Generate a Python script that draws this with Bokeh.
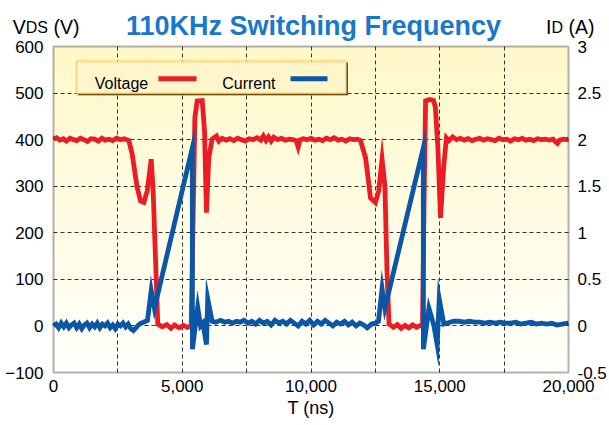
from bokeh.plotting import figure
from bokeh.models import (Range1d, LinearAxis, FixedTicker, NumeralTickFormatter, Grid,
                          Label, BoxAnnotation, Arrow, ColumnDataSource)
from bokeh.embed import file_html
from bokeh.resources import INLINE

# ---------------- data ----------------
volt_t = [0, 120, 250, 380, 500, 640, 780, 900, 1050, 1180, 1320, 1450, 1600, 1740, 1880,
          2000, 2150, 2300, 2450, 2600, 2750, 2925, 3055, 3250, 3380, 3510, 3640, 3795,
          3870, 3960, 4050, 4220, 4400, 4560, 4700, 4880, 5050, 5200, 5345, 5425, 5490,
          5580, 5775, 5865, 5940, 6030, 6160, 6330, 6420, 6550, 6700, 6850, 7000, 7150,
          7300, 7450, 7600, 7750, 7900, 8050, 8150, 8250, 8350, 8450, 8550, 8700, 8850,
          9000, 9150, 9300, 9420, 9500, 9570, 9700, 9850, 10000, 10150, 10300, 10450,
          10600, 10750, 10900, 11050, 11200, 11350, 11500, 11650, 11800, 11920, 12120,
          12310, 12500, 12630, 12760, 12870, 12950, 13030, 13200, 13350, 13500, 13650,
          13800, 13950, 14100, 14250, 14330, 14390, 14450, 14600, 14760, 14830, 14930,
          15030, 15150, 15260, 15360, 15500, 15650, 15800, 15950, 16100, 16250, 16400,
          16550, 16700, 16850, 17000, 17150, 17300, 17450, 17600, 17750, 17900, 18050,
          18200, 18350, 18500, 18650, 18800, 18950, 19100, 19250, 19400, 19500, 19570,
          19650, 19800, 19900, 20000]
volt_v = [401, 404, 399, 402, 397, 403, 400, 398, 403, 400, 396, 402, 401, 397, 403,
          399, 401, 398, 403, 400, 402, 398, 369, 297, 268, 265, 290, 358,
          290, 147, 4, -2, 3, -5, 2, -4, 1, -3, 0, 240, 447,
          483, 484, 419, 243, 361, 401, 408, 397, 403, 399, 402, 398, 403,
          400, 397, 402, 400, 404, 399, 408, 398, 406, 397, 405, 400, 403,
          399, 401, 400, 398, 384, 399, 402, 400, 403, 399, 401, 398,
          403, 400, 404, 399, 401, 397, 402, 400, 401, 398, 361,
          275, 265, 290, 358, 300, 120, 4, -3, 3, -5, 1,
          -4, 2, -3, 1, 0, 260, 483, 486, 484, 470, 380,
          232, 340, 404, 398, 406, 400, 403, 399, 402, 398, 401,
          403, 399, 402, 400, 398, 403, 400, 401, 397, 402, 400,
          403, 399, 401, 398, 402, 400, 401, 399, 401, 395, 392,
          399, 401, 400, 401]

curr_t = [0, 100, 200, 300, 400, 500, 600, 700, 800, 900, 1000, 1100, 1200, 1300, 1400,
          1500, 1600, 1700, 1800, 1900, 2000, 2100, 2200, 2300, 2400, 2500, 2600, 2700,
          2800, 2900, 3000, 3100, 3200, 3300, 3400, 3500, 3650, 3795, 3920, 5390, 5395,
          5600, 5710, 5800, 5940, 5990, 6160, 6300, 6490, 6650, 6800, 6950, 7100, 7250,
          7400, 7550, 7700, 7850, 8000, 8150, 8300, 8450, 8600, 8750, 8900, 9050, 9200,
          9350, 9500, 9650, 9800, 9950, 10100, 10250, 10400, 10550, 10700, 10850, 11000,
          11150, 11300, 11450, 11600, 11750, 11900, 12050, 12180, 12350, 12500, 12620,
          12760, 12870, 14360, 14365, 14580, 14770, 14900, 14980, 15160, 15550, 15750,
          15950, 16150, 16350, 16550, 16750, 16950, 17150, 17350, 17550, 17750, 17950,
          18150, 18350, 18550, 18750, 18950, 19150, 19350, 19550, 19750, 20000]
curr_a = [0.00, 0.02, -0.02, 0.03, -0.01, 0.03, -0.02, 0.01, 0.03, -0.02, 0.02, -0.03,
          0.01, 0.03, -0.02, 0.02, -0.01, 0.03, -0.02, 0.02, 0.00, 0.03, -0.02, 0.01,
          -0.03, 0.02, 0.00, 0.03, -0.01, 0.02, -0.03, -0.05, -0.02, 0.01, 0.03, 0.04,
          0.06, 0.38, 0.19, 1.91, -0.25, 0.20, 0.00, 0.03, -0.20, 0.29, 0.05, 0.04,
          0.06, 0.04, 0.05, 0.03, 0.05, 0.04, 0.06, 0.03, 0.05, 0.02, 0.06, 0.03, 0.05,
          0.01, 0.06, 0.03, 0.05, 0.02, 0.06, 0.03, 0.00, 0.05, 0.02, 0.06, 0.01, 0.05,
          0.02, 0.06, 0.03, 0.00, 0.04, 0.02, 0.05, 0.01, 0.04, 0.00, 0.03, 0.01, -0.02,
          0.02, 0.03, 0.05, 0.40, 0.19, 1.91, -0.25, 0.19, 0.01, -0.20, 0.29, 0.02, 0.05,
          0.05, 0.04, 0.05, 0.04, 0.04, 0.03, 0.04, 0.03, 0.04, 0.03, 0.03, 0.04, 0.02,
          0.03, 0.04, 0.02, 0.03, 0.02, 0.03, 0.01, 0.02, 0.03]

x_min, x_max = 0, 20000
v_min, v_max = -100, 600
i_min, i_max = -0.5, 3
x_label_ticks = [0, 5000, 10000, 15000, 20000]
x_grid_ticks = [2500, 5000, 7500, 10000, 12500, 15000, 17500]
v_ticks = [-100, 0, 100, 200, 300, 400, 500, 600]
v_grid_ticks = [0, 100, 200, 300, 400, 500]
i_ticks = [-0.5, 0, 0.5, 1, 1.5, 2, 2.5, 3]

title_text = "110KHz Switching Frequency"
series_names = ["Voltage", "Current"]
x_title = "T (ns)"

# ---------------- layout / styles ----------------
W, H = 609, 425
FL, FR, FT, FB = 53, 568, 46, 372          # plot-area box in canvas pixels
FONT = "Liberation Sans"
RED = "#ec1c24"
BLUE = "#0b56a5"
TITLE_BLUE = "#1a78c8"

def ext(lo, hi, a, b, size):
    # range so that [lo, hi] maps onto pixels [a, b] of a canvas of given size
    per = (hi - lo) / (b - a)
    return lo - a * per, hi + (size - b) * per

xs, xe = ext(x_min, x_max, FL, FR, W)
ys, ye = ext(v_min, v_max, H - FB, H - FT, H)
cs, ce = ext(i_min, i_max, H - FB, H - FT, H)

p = figure(width=W, height=H, x_range=Range1d(xs, xe), y_range=Range1d(ys, ye),
           output_backend="svg", toolbar_location=None, min_border=0,
           min_border_left=0, min_border_right=0, min_border_top=0, min_border_bottom=0,
           background_fill_color="white", border_fill_color="white")
p.extra_y_ranges = {"current": Range1d(cs, ce)}
p.outline_line_color = None
p.center = []   # drop default grids, custom ones below

# gradient plot-area background
n_band = 35
for k in range(n_band):
    f = k / (n_band - 1)
    col = (255, int(round(255 - 7 * f)), int(round(250 - 48 * f)))
    lo = v_min + (v_max - v_min) * k / n_band
    hi = v_min + (v_max - v_min) * (k + 1) / n_band
    p.add_layout(BoxAnnotation(left=x_min, right=x_max, bottom=lo,
                               top=min(hi + 0.6, v_max), fill_color=col, fill_alpha=1.0,
                               line_color=None, level="image"))

# axes (drawn at the edges of the plot area)
def style_axis(ax, size="17px"):
    ax.major_tick_out = 0
    ax.major_tick_in = 0
    ax.minor_tick_out = 0
    ax.minor_tick_in = 0
    ax.axis_line_color = None
    ax.major_label_text_font = FONT
    ax.major_label_text_font_size = size
    ax.major_label_text_color = "black"

xax = p.xaxis[0]
style_axis(xax)
xax.fixed_location = v_min
xax.bounds = (x_min, x_max)
xax.ticker = FixedTicker(ticks=x_label_ticks)
xax.formatter = NumeralTickFormatter(format="0,0")
xax.major_label_standoff = 7
xax.axis_label = x_title
xax.axis_label_text_font = FONT
xax.axis_label_text_font_size = "18px"
xax.axis_label_text_font_style = "normal"
xax.axis_label_text_color = "black"
xax.axis_label_standoff = 3

yax = p.yaxis[0]
style_axis(yax)
yax.fixed_location = x_min
yax.bounds = (v_min, v_max)
yax.ticker = FixedTicker(ticks=v_ticks)
yax.major_label_standoff = 10

rax = LinearAxis(y_range_name="current", ticker=FixedTicker(ticks=i_ticks),
                 formatter=NumeralTickFormatter(format="0.[0]"))
style_axis(rax)
rax.fixed_location = x_max
rax.bounds = (i_min, i_max)
rax.major_label_standoff = 9
p.add_layout(rax, "right")

# grid lines, restricted to the plot area
grid_kw = dict(grid_line_color="#333333", grid_line_dash="4 3", grid_line_width=1)
if "cross_bounds" in Grid.properties():
    p.add_layout(Grid(dimension=0, ticker=FixedTicker(ticks=x_grid_ticks),
                      bounds=(x_min, x_max), cross_bounds=(v_min, v_max), **grid_kw), "center")
    p.add_layout(Grid(dimension=1, ticker=FixedTicker(ticks=v_grid_ticks),
                      bounds=(v_min, v_max), cross_bounds=(x_min, x_max), **grid_kw), "center")
else:
    p.segment(x0=x_grid_ticks, x1=x_grid_ticks, y0=[v_min] * len(x_grid_ticks),
              y1=[v_max] * len(x_grid_ticks), line_color="#333333", line_dash="4 3",
              line_width=1)
    p.segment(x0=[x_min] * len(v_grid_ticks), x1=[x_max] * len(v_grid_ticks),
              y0=v_grid_ticks, y1=v_grid_ticks, line_color="#333333", line_dash="4 3",
              line_width=1)

# data lines
vsrc = ColumnDataSource(dict(t=volt_t, v=volt_v))
isrc = ColumnDataSource(dict(t=curr_t, a=curr_a))
p.line("t", "v", source=vsrc, line_color=RED, line_width=4.8, line_join="miter")
p.line("t", "a", source=isrc, y_range_name="current", line_color=BLUE, line_width=4.8,
       line_join="miter")

# plot-area border
p.add_layout(BoxAnnotation(left=x_min, right=x_max, bottom=v_min, top=v_max,
                           fill_color=None, line_color="black", line_width=2,
                           level="overlay"))

def sy(img_y):
    return H - img_y

# legend (label first, then the line sample)
p.add_layout(BoxAnnotation(left=77.5, right=347.5, top=sy(62.2), bottom=sy(94.8),
                           left_units="screen", right_units="screen", top_units="screen",
                           bottom_units="screen", fill_color="#3a2a00", fill_alpha=1.0,
                           line_color=None, level="overlay"))
p.add_layout(BoxAnnotation(left=76, right=346, top=sy(60.7), bottom=sy(93.3),
                           left_units="screen", right_units="screen", top_units="screen",
                           bottom_units="screen", fill_color="#fff6cc", fill_alpha=1.0,
                           line_color="#f2a81d", line_width=3, level="overlay"))
legend_x = [94.3, 221.7]
sample_x = [(158, 196), (290, 327)]
for name, lx, (a, b), col in zip(series_names, legend_x, sample_x, [RED, BLUE]):
    p.add_layout(Label(x=lx, y=sy(82.7), x_units="screen", y_units="screen", text=name,
                       text_font=FONT, text_font_size="16px", text_color="black",
                       text_baseline="alphabetic", level="overlay"))
    p.add_layout(Arrow(x_start=a, y_start=sy(78.3), x_end=b, y_end=sy(78.3),
                       start_units="screen", end_units="screen", end=None,
                       line_color=col, line_width=5, level="overlay"))

# chart title
p.add_layout(Label(x=313, y=sy(25), x_units="screen", y_units="screen", text=title_text,
                   text_font=FONT, text_font_size="27px", text_font_style="bold",
                   text_color=TITLE_BLUE, text_align="center", text_baseline="alphabetic"))

# axis titles with subscripts
def lab(x, y, t, size):
    p.add_layout(Label(x=x, y=sy(y), x_units="screen", y_units="screen", text=t,
                       text_font=FONT, text_font_size=size, text_color="black",
                       text_baseline="alphabetic"))

lab(12.3, 26, "V", "19.5px")
lab(25.3, 27, "DS", "16px")
lab(53.0, 26, "(V)", "19.5px")
lab(545.5, 26, "I", "19.5px")
lab(550.9, 27, "D", "16px")
lab(567.9, 26, "(A)", "19.5px")

open("out.html", "w").write(file_html(p, INLINE))
